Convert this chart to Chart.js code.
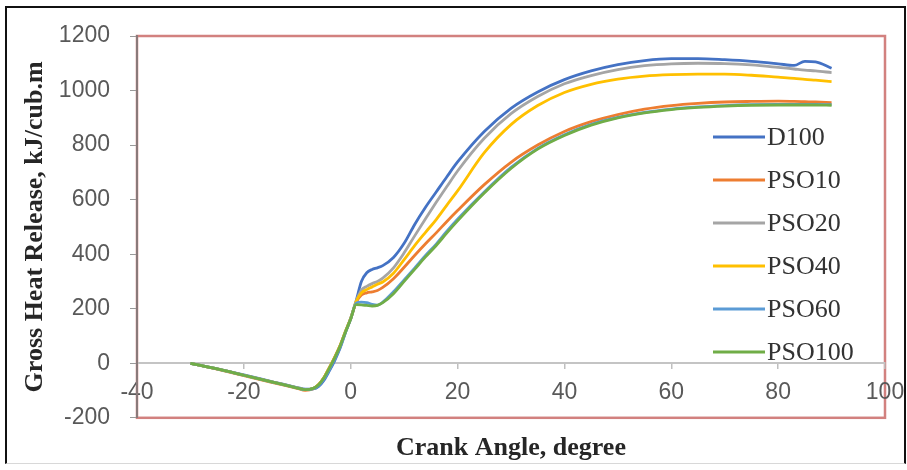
<!DOCTYPE html>
<html>
<head>
<meta charset="utf-8">
<script src="https://cdn.jsdelivr.net/npm/chart.js@4/dist/chart.umd.min.js"></script>
<style>
  html, body { margin: 0; padding: 0; background: #ffffff; }
  #wrap { position: relative; width: 907px; height: 470px; overflow: hidden; }
  #c { position: absolute; left: 0; top: 0; }
  #frame { position: absolute; left: 5px; top: 6px; width: 897px; height: 455px;
           border-left: 2px solid #111; border-top: 2px solid #111; border-right: 2px solid #111;
           border-bottom: 1px solid #d8d8d8; pointer-events: none; }
</style>
</head>
<body>
<div id="wrap">
  <canvas id="c" width="907" height="470"></canvas>
  <div id="frame"></div>
</div>
<script>
// Crank angle (degree)
const angles = [-30,-25,-20,-15,-10,-8.5,-7,-6,-5,-4,-3,-2,-1,0,1,2,3,4,5,6,8,10,12,14,16,18,20,25,30,35,40,45,50,55,60,65,70,75,80,83,85,87,90];

// Gross heat release, kJ/cub.m
const D100   = [0,-21,-43,-66,-89, -95,-94,-85,-62,-28, 10,55,112,165,228, 300,332,344,350,358, 388,440,510,572,628, 684,738,850,935,995, 1040,1072,1095,1110,1117, 1117,1113,1107,1098,1092, 1107,1105,1082];
const PSO10  = [0,-22,-45,-69,-92, -99,-93,-78,-52,-16, 22,64,115,163,222, 250,258,262,267,278, 310,352,396,438,478, 520,560,655,737,800, 850,886,912,932,945, 953,958,960,961,960, 959,958,956];
const PSO20  = [0,-21,-44,-67,-90, -97,-92,-78,-52,-16, 22,64,116,165,226, 268,282,292,300,312, 350,405,468,530,590, 648,705,825,915,978, 1025,1055,1077,1091,1098, 1100,1099,1094,1085,1079, 1075,1072,1066];
const PSO40  = [0,-21,-44,-67,-90, -97,-92,-78,-52,-16, 22,64,116,165,226, 258,270,280,290,298, 330,380,432,480,527, 580,632,772,875,945, 993,1023,1042,1053,1058, 1060,1060,1056,1049,1045, 1041,1038,1033];
const PSO60  = [0,-21,-44,-67,-90, -97,-93,-82,-58,-24, 15,58,112,162,220, 224,222,216,213,224, 262,306,350,395,437, 484,528,628,718,788, 838,876,902,920,932, 940,945,948,949,949, 949,949,948];
const PSO100 = [0,-21,-44,-67,-91, -97,-92,-79,-53,-18, 20,62,114,162,215, 214,212,210,212,222, 255,300,345,390,432, 478,522,624,714,785, 835,873,900,918,930, 938,943,946,947,947, 947,947,946];

const seriesNames  = ['D100','PSO10','PSO20','PSO40','PSO60','PSO100'];
const seriesValues = [D100, PSO10, PSO20, PSO40, PSO60, PSO100];
const seriesColors = ['#4472C4','#ED7D31','#A5A5A5','#FFC000','#5B9BD5','#70AD47'];

const xTicks = [-40,-20,0,20,40,60,80,100];
const yTicks = [-200,0,200,400,600,800,1000,1200];

const SANS = "'Liberation Sans', Arial, sans-serif";
const SERIF = "'Liberation Serif', 'Times New Roman', serif";

const datasets = seriesNames.map((name, i) => ({
  label: name,
  data: angles.map((a, k) => ({ x: a, y: seriesValues[i][k] })),
  borderColor: seriesColors[i],
  backgroundColor: seriesColors[i],
  borderWidth: 2.8,
  pointRadius: 0,
  fill: false,
  cubicInterpolationMode: 'monotone',
  order: seriesNames.length - i
}));

const plotBorder = {
  id: 'plotBorder',
  beforeDraw(chart) {
    const { ctx, chartArea: a } = chart;
    ctx.save();
    ctx.strokeStyle = 'rgba(192,80,77,0.72)';
    ctx.lineWidth = 2.5;
    ctx.strokeRect(a.left, a.top, a.right - a.left, a.bottom - a.top);
    ctx.restore();
  }
};

const insideLegend = {
  id: 'insideLegend',
  afterDatasetsDraw(chart) {
    const { ctx, chartArea: a } = chart;
    const x0 = a.right - 172, y0 = a.top + 101, step = 43;
    ctx.save();
    ctx.font = '26px ' + SERIF;
    ctx.textBaseline = 'middle';
    ctx.textAlign = 'left';
    chart.data.datasets.forEach((ds, i) => {
      const y = y0 + i * step;
      ctx.strokeStyle = ds.borderColor;
      ctx.lineWidth = 3.2;
      ctx.beginPath();
      ctx.moveTo(x0, y);
      ctx.lineTo(x0 + 52, y);
      ctx.stroke();
      ctx.fillStyle = '#333333';
      ctx.fillText(ds.label, x0 + 54, y + 1);
    });
    ctx.restore();
  }
};

new Chart(document.getElementById('c'), {
  type: 'line',
  data: { datasets },
  plugins: [plotBorder, insideLegend],
  options: {
    responsive: false,
    animation: false,
    devicePixelRatio: 1,
    layout: { padding: { top: 36, right: 22, left: 0, bottom: 0 } },
    plugins: {
      legend: { display: false },
      tooltip: { enabled: false },
      title: {
        display: true,
        text: 'Crank Angle, degree',
        position: 'bottom',
        fullSize: false,
        color: '#262626',
        font: { family: SERIF, size: 26, weight: 'bold', lineHeight: 1.2 },
        padding: { top: 15, bottom: 6 }
      }
    },
    scales: {
      x: {
        type: 'linear',
        position: { y: 0 },
        min: -40, max: 100,
        afterBuildTicks: s => { s.ticks = xTicks.map(v => ({ value: v })); },
        afterFit: s => { s.height = 0; s.paddingLeft = 0; s.paddingRight = 0; },
        grid: { drawOnChartArea: false, drawTicks: true, tickLength: 5, color: '#bfbfbf', lineWidth: 1.5 },
        border: { display: true, color: '#c4c4c4', width: 2 },
        ticks: { color: '#595959', font: { family: SANS, size: 23 }, padding: 11, maxRotation: 0,
                 callback: v => String(v) }
      },
      y: {
        type: 'linear',
        position: 'left',
        min: -200, max: 1200,
        afterBuildTicks: s => { s.ticks = yTicks.map(v => ({ value: v })); },
        afterFit: s => { s.width = 137; },
        grid: { drawOnChartArea: false, drawTicks: true, tickLength: 7, color: '#9a9a9a', lineWidth: 1 },
        border: { display: true, color: '#8a7a7a', width: 2 },
        ticks: { color: '#595959', font: { family: SANS, size: 23 }, padding: 20,
                 callback: v => String(v) },
        title: {
          display: true,
          text: 'Gross Heat Release, kJ/cub.m',
          color: '#262626',
          font: { family: SERIF, size: 26, weight: 'bold', lineHeight: 1.2 },
          padding: { top: 20, bottom: 0 }
        }
      }
    }
  }
});
</script>
</body>
</html>
